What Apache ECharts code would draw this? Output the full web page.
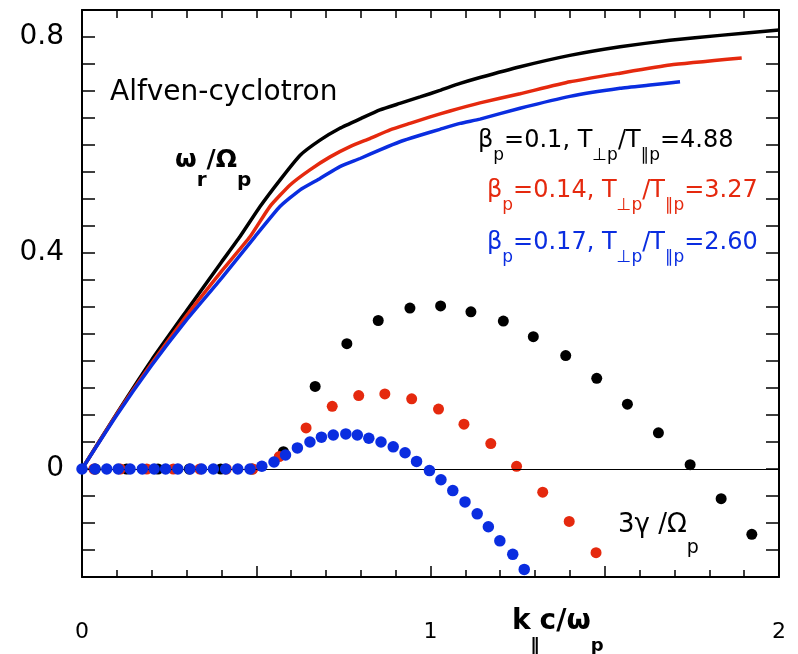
<!DOCTYPE html>
<html>
<head>
<meta charset="utf-8">
<script src="https://cdn.jsdelivr.net/npm/echarts@6/dist/echarts.min.js"></script>
<style>
html,body{margin:0;padding:0;background:#fff;}
#chart{width:798px;height:654px;}
</style>
</head>
<body>
<div id="chart"></div>
<script>
// ---- data ----
// omega_r / Omega_p curves: [k c/wp, value]
const lineBlack = [[0,0],[0.1,0.103],[0.2,0.202],[0.3,0.293],[0.4,0.383],[0.453,0.430],[0.511,0.486],[0.568,0.535],[0.626,0.581],[0.683,0.609],[0.74,0.631],[0.8,0.649],[0.855,0.665],[0.912,0.677],[0.97,0.689],[1.027,0.701],[1.085,0.714],[1.142,0.725],[1.257,0.745],[1.4,0.766],[1.544,0.782],[1.687,0.794],[1.831,0.803],[2.0,0.813]];
const lineRed = [[0,0],[0.1,0.102],[0.2,0.196],[0.3,0.284],[0.4,0.366],[0.482,0.430],[0.539,0.486],[0.597,0.526],[0.654,0.554],[0.712,0.578],[0.769,0.597],[0.826,0.612],[0.884,0.628],[0.941,0.640],[0.999,0.652],[1.056,0.663],[1.142,0.678],[1.257,0.695],[1.4,0.717],[1.544,0.733],[1.687,0.748],[1.893,0.761]];
const lineBlue = [[0,0],[0.1,0.100],[0.2,0.192],[0.3,0.276],[0.4,0.353],[0.496,0.430],[0.568,0.486],[0.626,0.517],[0.683,0.538],[0.74,0.560],[0.798,0.575],[0.855,0.591],[0.912,0.606],[0.97,0.618],[1.027,0.629],[1.085,0.640],[1.142,0.648],[1.257,0.668],[1.4,0.690],[1.544,0.705],[1.63,0.711],[1.716,0.717]];
// 3 gamma / Omega_p growth rates
const dotsBlack = [[0.038,0],[0.128,0],[0.218,0],[0.308,0],[0.398,0],[0.488,0],[0.578,0.032],[0.669,0.153],[0.760,0.232],[0.850,0.275],[0.941,0.298],[1.029,0.302],[1.116,0.291],[1.209,0.274],[1.295,0.245],[1.388,0.210],[1.477,0.168],[1.565,0.120],[1.654,0.067],[1.745,0.008],[1.834,-0.055],[1.922,-0.121]];
const dotsRed = [[0.034,0],[0.110,0],[0.186,0],[0.262,0],[0.338,0],[0.414,0],[0.490,0],[0.566,0.023],[0.643,0.076],[0.718,0.116],[0.794,0.136],[0.869,0.139],[0.946,0.130],[1.023,0.111],[1.096,0.083],[1.173,0.047],[1.247,0.005],[1.322,-0.043],[1.398,-0.097],[1.475,-0.155]];
const dotsBlue = [[0,0],[0.037,0],[0.071,0],[0.104,0],[0.138,0],[0.173,0],[0.207,0],[0.240,0],[0.275,0],[0.310,0],[0.343,0],[0.377,0],[0.412,0],[0.447,0],[0.482,0],[0.516,0.005],[0.551,0.013],[0.584,0.026],[0.618,0.039],[0.654,0.050],[0.687,0.059],[0.721,0.063],[0.757,0.065],[0.790,0.063],[0.823,0.057],[0.858,0.050],[0.893,0.041],[0.927,0.030],[0.960,0.014],[0.997,-0.003],[1.030,-0.020],[1.064,-0.040],[1.099,-0.061],[1.134,-0.083],[1.166,-0.107],[1.199,-0.133],[1.236,-0.158],[1.269,-0.186]];
// tick labels
const xTickValues = [0, 1, 2];
const xTickLabels = ['0', '1', '2'];
const yTickValues = [0, 0.4, 0.8];
const yTickLabels = ['0', '0.4', '0.8'];

// ---- styling ----
const FONT = 'DejaVu Sans';
const BLACK = '#000000', RED = '#e5290e', BLUE = '#0a2de0';

function lookup(vals, labels, v) {
  for (let i = 0; i < vals.length; i++) if (Math.abs(vals[i] - v) < 1e-6) return labels[i];
  return '';
}

function sub(mainSize, subSize, drop, color, bold) {
  const fw = bold ? 'bold' : 'normal';
  return {
    m: {fontFamily: FONT, fontSize: mainSize, lineHeight: mainSize, fontWeight: fw, fill: color, color: color, verticalAlign: 'top'},
    s: {fontFamily: FONT, fontSize: subSize, lineHeight: subSize, fontWeight: fw, fill: color, color: color, verticalAlign: 'top',
        padding: [Math.round(drop + 0.8 * (mainSize - subSize)), 0, 0, 0]}
  };
}

function richText(x, baseline, mainSize, subSize, drop, color, bold, text) {
  return {
    type: 'text', x: x, y: baseline - 0.8 * mainSize, z: 100,
    style: {text: text, rich: sub(mainSize, subSize, drop, color, bold), fill: color, verticalAlign: 'top', align: 'left',
            font: (bold ? 'bold ' : '') + mainSize + 'px "' + FONT + '"'}
  };
}

const axisLineStyle = {color: '#000', width: 2};
const tickStyle = {color: '#000', width: 1.5};

const option = {
  animation: false,
  backgroundColor: '#fff',
  grid: {left: 82, right: 19, top: 10, bottom: 77},
  xAxis: [
    {type: 'value', min: 0, max: 2, interval: 0.5, position: 'bottom',
     axisLine: {show: true, onZero: false, lineStyle: axisLineStyle},
     axisTick: {show: true, inside: true, length: 11, lineStyle: tickStyle},
     minorTick: {show: true, splitNumber: 5, length: 7, lineStyle: tickStyle},
     axisLabel: {show: true, margin: 44, fontFamily: FONT, fontSize: 22, color: '#000',
                 formatter: v => lookup(xTickValues, xTickLabels, v)},
     splitLine: {show: false}, minorSplitLine: {show: false}},
    {type: 'value', min: 0, max: 2, interval: 0.1, position: 'top',
     axisLine: {show: true, onZero: false, lineStyle: axisLineStyle},
     axisTick: {show: true, inside: true, length: 8, lineStyle: tickStyle},
     axisLabel: {show: false}, splitLine: {show: false}}
  ],
  yAxis: [
    {type: 'value', min: -0.2, max: 0.85, interval: 0.05, position: 'left',
     axisLine: {show: true, onZero: false, lineStyle: axisLineStyle},
     axisTick: {show: true, inside: true, length: 13, lineStyle: tickStyle},
     axisLabel: {show: true, margin: 18, fontFamily: FONT, fontSize: 28, color: '#000',
                 formatter: v => lookup(yTickValues, yTickLabels, v)},
     splitLine: {show: false}},
    {type: 'value', min: -0.2, max: 0.85, interval: 0.05, position: 'right',
     axisLine: {show: true, onZero: false, lineStyle: axisLineStyle},
     axisTick: {show: true, inside: true, length: 13, lineStyle: tickStyle},
     axisLabel: {show: false}, splitLine: {show: false}}
  ],
  series: [
    {type: 'line', name: 'black', data: lineBlack, showSymbol: false, symbol: 'none', smooth: 0.15,
     lineStyle: {color: BLACK, width: 3.5}, z: 2,
     markLine: {silent: true, symbol: 'none', label: {show: false},
                lineStyle: {color: '#000', width: 1, type: 'solid'}, data: [{yAxis: 0}]}},
    {type: 'line', name: 'red', data: lineRed, showSymbol: false, symbol: 'none', smooth: 0.15,
     lineStyle: {color: RED, width: 3.5}, z: 2},
    {type: 'line', name: 'blue', data: lineBlue, showSymbol: false, symbol: 'none', smooth: 0.15,
     lineStyle: {color: BLUE, width: 3.5}, z: 2},
    {type: 'scatter', data: dotsBlack, symbol: 'circle', symbolSize: 11, itemStyle: {color: BLACK, opacity: 1}, z: 3},
    {type: 'scatter', data: dotsRed, symbol: 'circle', symbolSize: 11, itemStyle: {color: RED, opacity: 1}, z: 4},
    {type: 'scatter', data: dotsBlue, symbol: 'circle', symbolSize: 11.5, itemStyle: {color: BLUE, opacity: 1}, z: 5}
  ],
  graphic: [
    {type: 'text', x: 110, y: 101 - 0.8 * 28, z: 100,
     style: {text: 'Alfven-cyclotron', fill: '#000', font: '28px "' + FONT + '"', verticalAlign: 'top'}},
    richText(175, 168, 25, 20, 19, BLACK, true, '{m|ω}{s|r}{m|/Ω}{s|p}'),
    richText(478, 148, 24, 17, 12, BLACK, false, '{m|β}{s|p}{m|=0.1, T}{s|⊥p}{m|/T}{s|∥p}{m|=4.88}'),
    richText(487, 198, 24, 17, 12, RED, false, '{m|β}{s|p}{m|=0.14, T}{s|⊥p}{m|/T}{s|∥p}{m|=3.27}'),
    richText(487, 250, 24, 17, 12, BLUE, false, '{m|β}{s|p}{m|=0.17, T}{s|⊥p}{m|/T}{s|∥p}{m|=2.60}'),
    richText(618, 533, 26, 19, 20, BLACK, false, '{m|3γ /Ω}{s|p}'),
    richText(512, 630, 28, 18, 22, BLACK, true, '{m|k}{s|∥}{m|c/ω}{s|p}')
  ]
};

const chart = echarts.init(document.getElementById('chart'), null, {renderer: 'canvas'});
chart.setOption(option);
</script>
</body>
</html>
